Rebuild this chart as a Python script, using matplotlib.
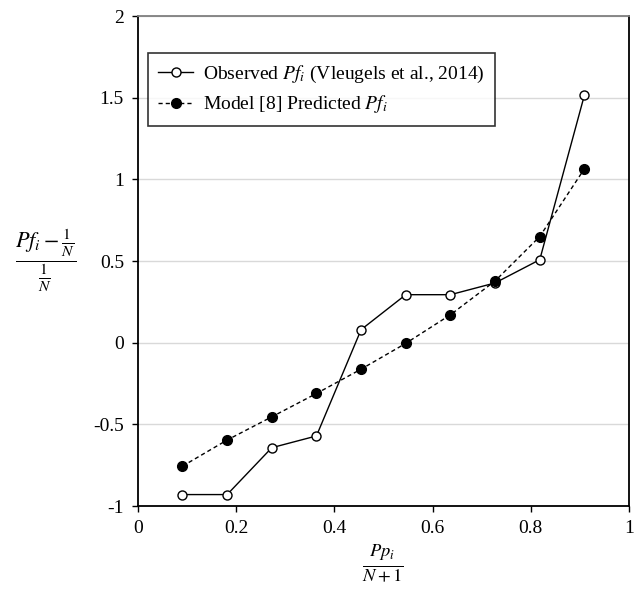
import numpy as np
import matplotlib
matplotlib.use("Agg")
import matplotlib.pyplot as plt

plt.rcParams["font.family"] = ["Liberation Serif", "DejaVu Serif"]
plt.rcParams["mathtext.fontset"] = "stix"

# plotting positions i/(N+1), N = 10
n_points = 10
rank = np.arange(1, n_points + 1)
pp = rank / (n_points + 1)

observed = [-0.93, -0.93, -0.643, -0.571, 0.08, 0.294, 0.294, 0.366, 0.508, 1.516]
model_pred = [-0.756, -0.596, -0.454, -0.311, -0.162, -0.004, 0.171, 0.378, 0.65, 1.065]

obs_label = "Observed $Pf_i$ (Vleugels et al., 2014)"
model_label = "Model [8] Predicted $Pf_i$"

xticks = [0, 0.2, 0.4, 0.6, 0.8, 1]
yticks = [-1, -0.5, 0, 0.5, 1, 1.5, 2]

fig = plt.figure(figsize=(6.38, 5.96), dpi=100)
ax = fig.add_axes([0.216, 0.151, 0.77, 0.822])

ax.plot(pp, observed, "-", color="black", lw=1.0, marker="o",
        markersize=6.5, markerfacecolor="white", markeredgecolor="black",
        markeredgewidth=1.0, label=obs_label, zorder=3)
ax.plot(pp, model_pred, "--", color="black", lw=1.0, dashes=(3, 2.2),
        marker="o", markersize=7, markerfacecolor="black",
        markeredgecolor="black", label=model_label, zorder=4)

ax.set_xlim(0, 1)
ax.set_ylim(-1, 2)
ax.set_xticks(xticks)
ax.set_yticks(yticks)
ax.set_xticklabels([f"{t:g}" for t in xticks])
ax.set_yticklabels([f"{t:g}" for t in yticks])
ax.tick_params(direction="out", length=4, width=1, labelsize=14, pad=6)

ax.yaxis.grid(True, color="#d9d9d9", lw=1)
ax.set_axisbelow(True)

for side in ("left", "bottom", "right"):
    ax.spines[side].set_color("black")
    ax.spines[side].set_linewidth(1.3)
ax.spines["top"].set_color("#7f7f7f")
ax.spines["top"].set_linewidth(1.3)

ax.set_xlabel(r"$\frac{Pp_i}{N+1}$", fontsize=19, labelpad=4)
ax.set_ylabel(r"$\dfrac{Pf_i - \frac{1}{N}}{\frac{1}{N}}$", fontsize=16,
              rotation=0, va="center", ha="center")
ax.yaxis.set_label_coords(-0.187, 0.5)

leg = ax.legend(loc="upper left", bbox_to_anchor=(0.02, 0.925), fontsize=14,
                frameon=True, fancybox=False, edgecolor="black",
                handlelength=1.8, handletextpad=0.5, borderpad=0.55,
                labelspacing=0.45, borderaxespad=0)
leg.get_frame().set_linewidth(1.2)

fig.savefig("out.png", dpi=100)
